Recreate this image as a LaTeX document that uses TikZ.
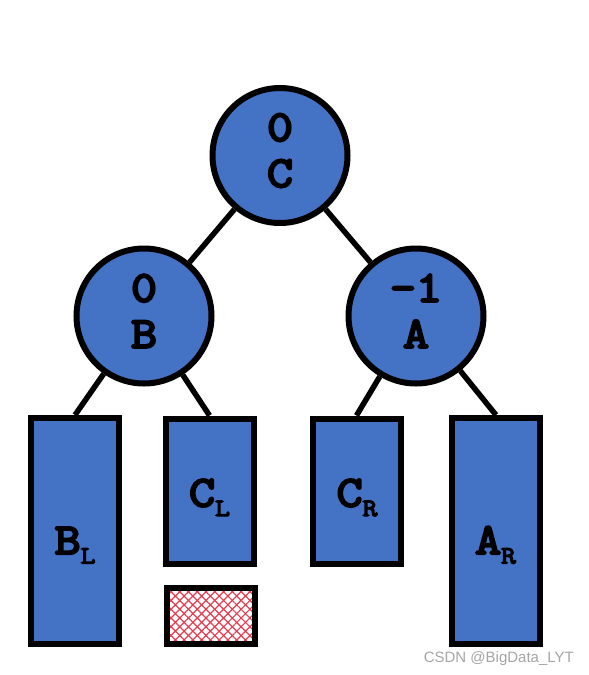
\documentclass[tikz,border=0pt]{standalone}
\usepackage{fontspec}
\setmainfont{Liberation Sans}
\newfontfamily\courfont[FakeBold=5, FakeStretch=1.15]{Latin Modern Mono}
\usetikzlibrary{patterns.meta}
\definecolor{nodeblue}{RGB}{68,114,196}
\definecolor{hatchred}{RGB}{228,60,80}
\definecolor{wmgray}{RGB}{165,165,165}
\tikzset{
  treenode/.style={circle, draw=black, fill=nodeblue, line width=6pt, minimum size=135pt, inner sep=0pt},
  subtree/.style={rectangle, draw=black, fill=nodeblue, line width=6pt, minimum width=88pt, inner sep=0pt},
  nodetext/.style={align=center, font=\courfont\fontsize{44}{46}\selectfont, yshift=5pt},
  treetext/.style={anchor=base, font=\courfont\fontsize{44}{46}\selectfont, inner sep=0pt},
  edge/.style={line width=5.5pt, draw=black},
  hatchbox/.style={rectangle, draw=black, line width=6pt, minimum width=88pt, minimum height=56pt, inner sep=0pt,
    preaction={fill=white},
    preaction={pattern={Lines[angle=45,distance=6.2pt,line width=1.2pt]}, pattern color=hatchred},
    preaction={pattern={Lines[angle=-45,distance=6.2pt,line width=1.2pt]}, pattern color=hatchred}},
  watermark/.style={anchor=base east, text=wmgray, font=\fontsize{15}{15}\selectfont, inner sep=0pt}
}
\newcommand{\sublet}[1]{\raisebox{-9.5pt}{\fontsize{25}{25}\selectfont #1}}
\begin{document}
\begin{tikzpicture}[x=1pt,y=-1pt]
\useasboundingbox (0,0) rectangle (589,675);
% circles
\node[treenode] (C) at (280,155.5) {};
\node[treenode] (B) at (144,316) {};
\node[treenode] (A) at (416,316) {};
% subtrees
\node[subtree, minimum height=226pt] (BL) at (75,531) {};
\node[subtree, minimum height=145pt] (CL) at (209.5,491) {};
\node[subtree, minimum height=145pt] (CR) at (356.5,491) {};
\node[subtree, minimum height=226pt] (AR) at (496,531) {};
\node[hatchbox] (H) at (211,616) {};
% edges
\draw[edge] (C) -- (B);
\draw[edge] (C) -- (A);
\draw[edge] (B) -- (BL.north);
\draw[edge] (B) -- (CL.north);
\draw[edge] (A) -- (CR.north);
\draw[edge] (A) -- (AR.north);
% texts
\node[nodetext] (Ct) at (C) {0\\C};
\node[nodetext] (Bt) at (B) {0\\B};
\node[nodetext] (At) at (A) {-1\\A};
\node[treetext] (BLt) at (75,554) {B\sublet{L}};
\node[treetext] (CLt) at (209.5,506.5) {C\sublet{L}};
\node[treetext] (CRt) at (357,506.5) {C\sublet{R}};
\node[treetext] (ARt) at (495.5,554) {A\sublet{R}};
\node[watermark] (wm) at (574,662) {CSDN @BigData\_LYT};
\end{tikzpicture}
\end{document}
